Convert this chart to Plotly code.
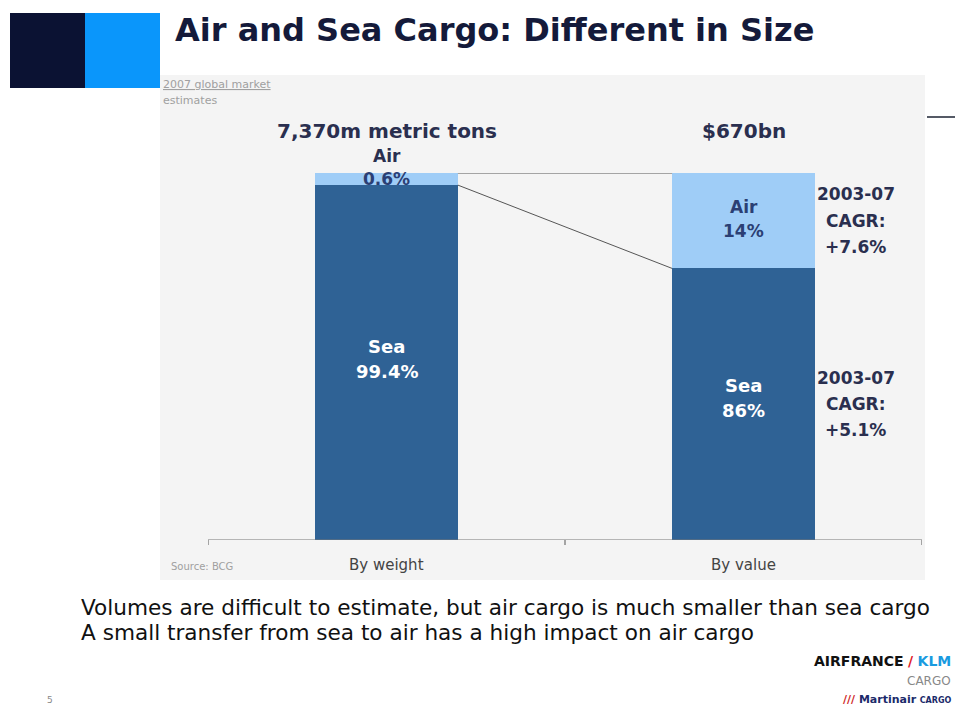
import plotly.graph_objects as go

# ---- data ----
categories = ["By weight", "By value"]
sea_height = [96.7, 74.0]      # drawn bar heights (%)
air_height = [3.3, 26.0]
sea_labels = [["Sea", "99.4%"], ["Sea", "86%"]]
air_labels = [["0.6%"], ["Air", "14%"]]
totals_labels = ["7,370m metric tons", "$670bn"]
cagr_sea = ["2003-07", "CAGR:", "+5.1%"]
cagr_air = ["2003-07", "CAGR:", "+7.6%"]

SEA = "#2f6295"
AIR = "#9fcdf7"
NAVY = "#2a2f4f"
FONT = "DejaVu Sans, Arial, sans-serif"
FONT_R = "DejaVu Sans, Arial, sans-serif"

# page has an 8px body margin: figure is drawn from (8, 8)
OFF = 8
RIGHT_EDGE, BOTTOM_EDGE = 955, 707
W, H = RIGHT_EDGE - OFF, BOTTOM_EDGE - OFF
L, R, T, B = 208, 922, 173, 540   # plot area in window pixels

def px(x):
    return (x - L) / (R - L)

def py(y):
    return (B - y) / (B - T)

xs = list(range(len(categories)))
fig = go.Figure()
fig.add_trace(go.Bar(x=xs, y=sea_height, width=0.4, marker=dict(color=SEA, line=dict(width=0)),
                     hoverinfo="skip", showlegend=False))
fig.add_trace(go.Bar(x=xs, y=air_height, width=0.4, marker=dict(color=AIR, line=dict(width=0)),
                     hoverinfo="skip", showlegend=False))

shapes = []
shapes.append(dict(type="rect", xref="paper", yref="paper", x0=px(160), x1=px(925), y0=py(580), y1=py(75),
                   fillcolor="#f4f4f4", line=dict(width=0), layer="below"))
shapes.append(dict(type="rect", xref="paper", yref="paper", x0=px(10), x1=px(85), y0=py(88), y1=py(13),
                   fillcolor="#0b1233", line=dict(width=0)))
shapes.append(dict(type="rect", xref="paper", yref="paper", x0=px(85), x1=px(160), y0=py(88), y1=py(13),
                   fillcolor="#0a96fb", line=dict(width=0)))
shapes.append(dict(type="line", xref="paper", yref="paper", x0=px(927), x1=px(963), y0=py(117), y1=py(117),
                   line=dict(color="#555a66", width=2)))
shapes.append(dict(type="line", xref="x", yref="y", x0=-0.5, x1=1.5, y0=0, y1=0,
                   line=dict(color="#777777", width=1)))
for tx in [-0.5, 0.5, 1.5]:
    shapes.append(dict(type="line", xref="x", yref="paper", x0=tx, x1=tx, y0=0, y1=py(545),
                       line=dict(color="#555555", width=1)))
tot = [s + a for s, a in zip(sea_height, air_height)]
shapes.append(dict(type="line", xref="x", yref="y", x0=0.2, x1=0.8, y0=tot[0], y1=tot[1],
                   line=dict(color="#555555", width=1)))
shapes.append(dict(type="line", xref="x", yref="y", x0=0.2, x1=0.8, y0=sea_height[0], y1=sea_height[1],
                   line=dict(color="#555555", width=1)))

ann = []
def A(**kw):
    d = dict(showarrow=False)
    d.update(kw)
    ann.append(d)

def lines(texts, x, y, spacing, size, color, shift=0, bold=True, family=FONT):
    n = len(texts)
    for k, t in enumerate(texts):
        ys = shift + (n - 1) / 2 * spacing - k * spacing
        A(text=("<b>%s</b>" % t) if bold else t, x=x, y=y, xref="x", yref="y", yshift=ys,
          yanchor="middle", font=dict(family=family, size=size, color=color))

# title
A(text="<b>Air and Sea Cargo: Different in Size</b>", xref="paper", yref="paper", x=px(173), y=py(30),
  xanchor="left", yanchor="middle", font=dict(family=FONT, size=32, color="#141a3a"))
A(text="<u>2007 global market</u>", xref="paper", yref="paper", x=px(161), y=py(84),
  xanchor="left", yanchor="middle", font=dict(family=FONT_R, size=11, color="#a0a0a0"))
A(text="estimates", xref="paper", yref="paper", x=px(161), y=py(100),
  xanchor="left", yanchor="middle", font=dict(family=FONT_R, size=11, color="#a0a0a0"))

for i in xs:
    A(text="<b>%s</b>" % totals_labels[i], x=i, y=tot[i], yshift=42, xref="x", yref="y", yanchor="middle",
      font=dict(family=FONT, size=20, color=NAVY))
    lines(sea_labels[i], i, sea_height[i] / 2, 25, 18, "white", shift=(4 if i == 0 else 6))
    A(text=categories[i], x=i, y=0, yshift=-25, xref="x", yref="y", yanchor="middle",
      font=dict(family=FONT_R, size=15, color="#444444"))
A(text="<b>Air</b>", x=0, y=tot[0], yshift=17, xref="x", yref="y", yanchor="middle",
  font=dict(family=FONT, size=17, color=NAVY))
lines(air_labels[0], 0, tot[0], 24, 17, "#2b3f74", shift=-6)
lines(air_labels[1], 1, sea_height[1] + air_height[1] / 2, 24, 17, "#2b3f74", shift=2)
lines(cagr_air, 1.315, sea_height[1] + air_height[1] / 2, 26.5, 17, NAVY, shift=0)
lines(cagr_sea, 1.315, sea_height[1] / 2, 26, 17, NAVY, shift=0)

A(text="Source: BCG", xref="paper", yref="paper", x=px(169), y=py(566), xanchor="left", yanchor="middle",
  font=dict(family=FONT_R, size=10, color="#a0a0a0"))
A(text="Volumes are difficult to estimate, but air cargo is much smaller than sea cargo",
  xref="paper", yref="paper", x=px(79), y=py(607), xanchor="left", yanchor="middle",
  font=dict(family=FONT_R, size=21.6, color="#111111"))
A(text="A small transfer from sea to air has a high impact on air cargo",
  xref="paper", yref="paper", x=px(79), y=py(632), xanchor="left", yanchor="middle",
  font=dict(family=FONT_R, size=21.6, color="#111111"))
A(text="5", xref="paper", yref="paper", x=px(45), y=py(700), yanchor="middle",
  font=dict(family=FONT_R, size=9, color="#888888"))
# logo
A(text="<b>AIRFRANCE</b> <b><span style='color:#e0202a'>/</span></b> <b><span style='color:#1a9be0'>KLM</span></b>",
  xref="paper", yref="paper", x=px(953), y=py(661), xanchor="right", yanchor="middle",
  font=dict(family=FONT, size=14, color="#111111"))
A(text="CARGO", xref="paper", yref="paper", x=px(953), y=py(681), xanchor="right", yanchor="middle",
  font=dict(family=FONT_R, size=12, color="#888888"))
A(text="<b><span style='color:#d02a2a'>///</span> Martinair</b> <span style='font-size:8px'><b>CARGO</b></span>",
  xref="paper", yref="paper", x=px(953), y=py(699), xanchor="right", yanchor="middle",
  font=dict(family=FONT, size=11, color="#1b2a6a"))

fig.update_layout(
    width=W, height=H,
    margin=dict(l=L - OFF, r=RIGHT_EDGE - R, t=T - OFF, b=BOTTOM_EDGE - B),
    paper_bgcolor="white", plot_bgcolor="rgba(0,0,0,0)",
    barmode="stack", bargap=0,
    xaxis=dict(range=[-0.5, 1.5], showgrid=False, zeroline=False, showticklabels=False, showline=False,
               fixedrange=True),
    yaxis=dict(range=[0, 100], showgrid=False, zeroline=False, showticklabels=False, showline=False,
               fixedrange=True),
    shapes=shapes, annotations=ann, showlegend=False,
)
fig.write_html("out.html")
